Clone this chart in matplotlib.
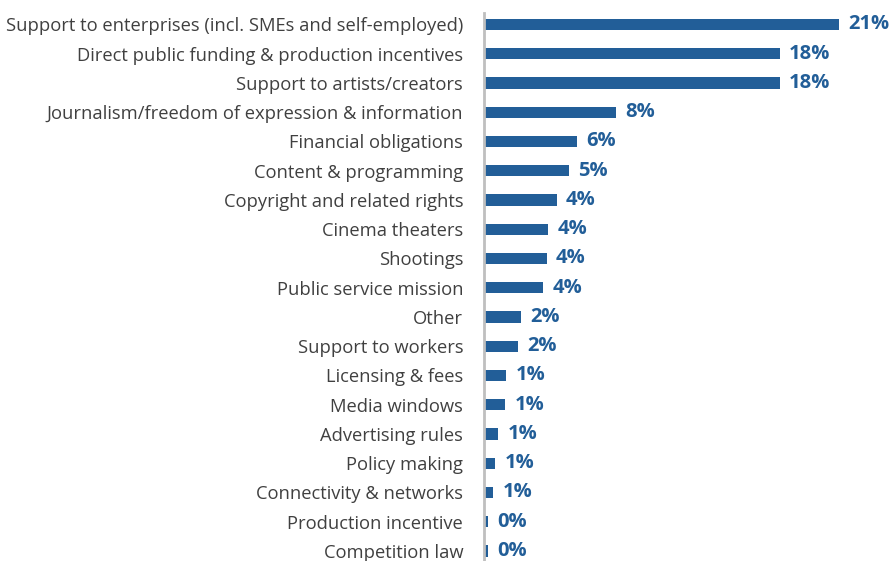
import matplotlib
matplotlib.use("Agg")
import matplotlib.pyplot as plt

categories = [
    "Support to enterprises (incl. SMEs and self-employed)",
    "Direct public funding & production incentives",
    "Support to artists/creators",
    "Journalism/freedom of expression & information",
    "Financial obligations",
    "Content & programming",
    "Copyright and related rights",
    "Cinema theaters",
    "Shootings",
    "Public service mission",
    "Other",
    "Support to workers",
    "Licensing & fees",
    "Media windows",
    "Advertising rules",
    "Policy making",
    "Connectivity & networks",
    "Production incentive",
    "Competition law",
]
values = [21.0, 17.5, 17.5, 7.8, 5.5, 5.0, 4.3, 3.8, 3.7, 3.5, 2.2, 2.0,
          1.3, 1.25, 0.85, 0.65, 0.55, 0.25, 0.25]
labels = ["21%", "18%", "18%", "8%", "6%", "5%", "4%", "4%", "4%", "4%", "2%", "2%",
          "1%", "1%", "1%", "1%", "1%", "0%", "0%"]

BAR = "#225E98"
TXT = "#404040"

W, H = 892, 561
fig = plt.figure(figsize=(W / 100, H / 100), dpi=100)
left_px, top_px, bottom_px = 484, 12.8, 568.5
ax = fig.add_axes([left_px / W, 1 - bottom_px / H, (W - left_px) / W, (bottom_px - top_px) / H])

ypos = list(range(len(categories)))
ax.barh(ypos, values, height=0.38, color=BAR, zorder=2)
ax.set_ylim(18.6, -0.4)
ax.set_xlim(0, (W - left_px) / 16.9)

for y, v, lab in zip(ypos, values, labels):
    ax.text(v + 0.55, y, lab, va="center", ha="left", fontsize=14.5,
            fontweight="bold", color=BAR, family="Open Sans")

ax.set_yticks(ypos)
ax.set_yticklabels(categories, fontsize=13.25, color=TXT, family="Open Sans")
ax.tick_params(axis="y", length=0, pad=15)
ax.set_xticks([])
for s in ["top", "right", "bottom"]:
    ax.spines[s].set_visible(False)
ax.spines["left"].set_color("#BFBFBF")
ax.spines["left"].set_linewidth(2)
ax.spines["left"].set_zorder(3)

fig.savefig("out.png", dpi=100)
